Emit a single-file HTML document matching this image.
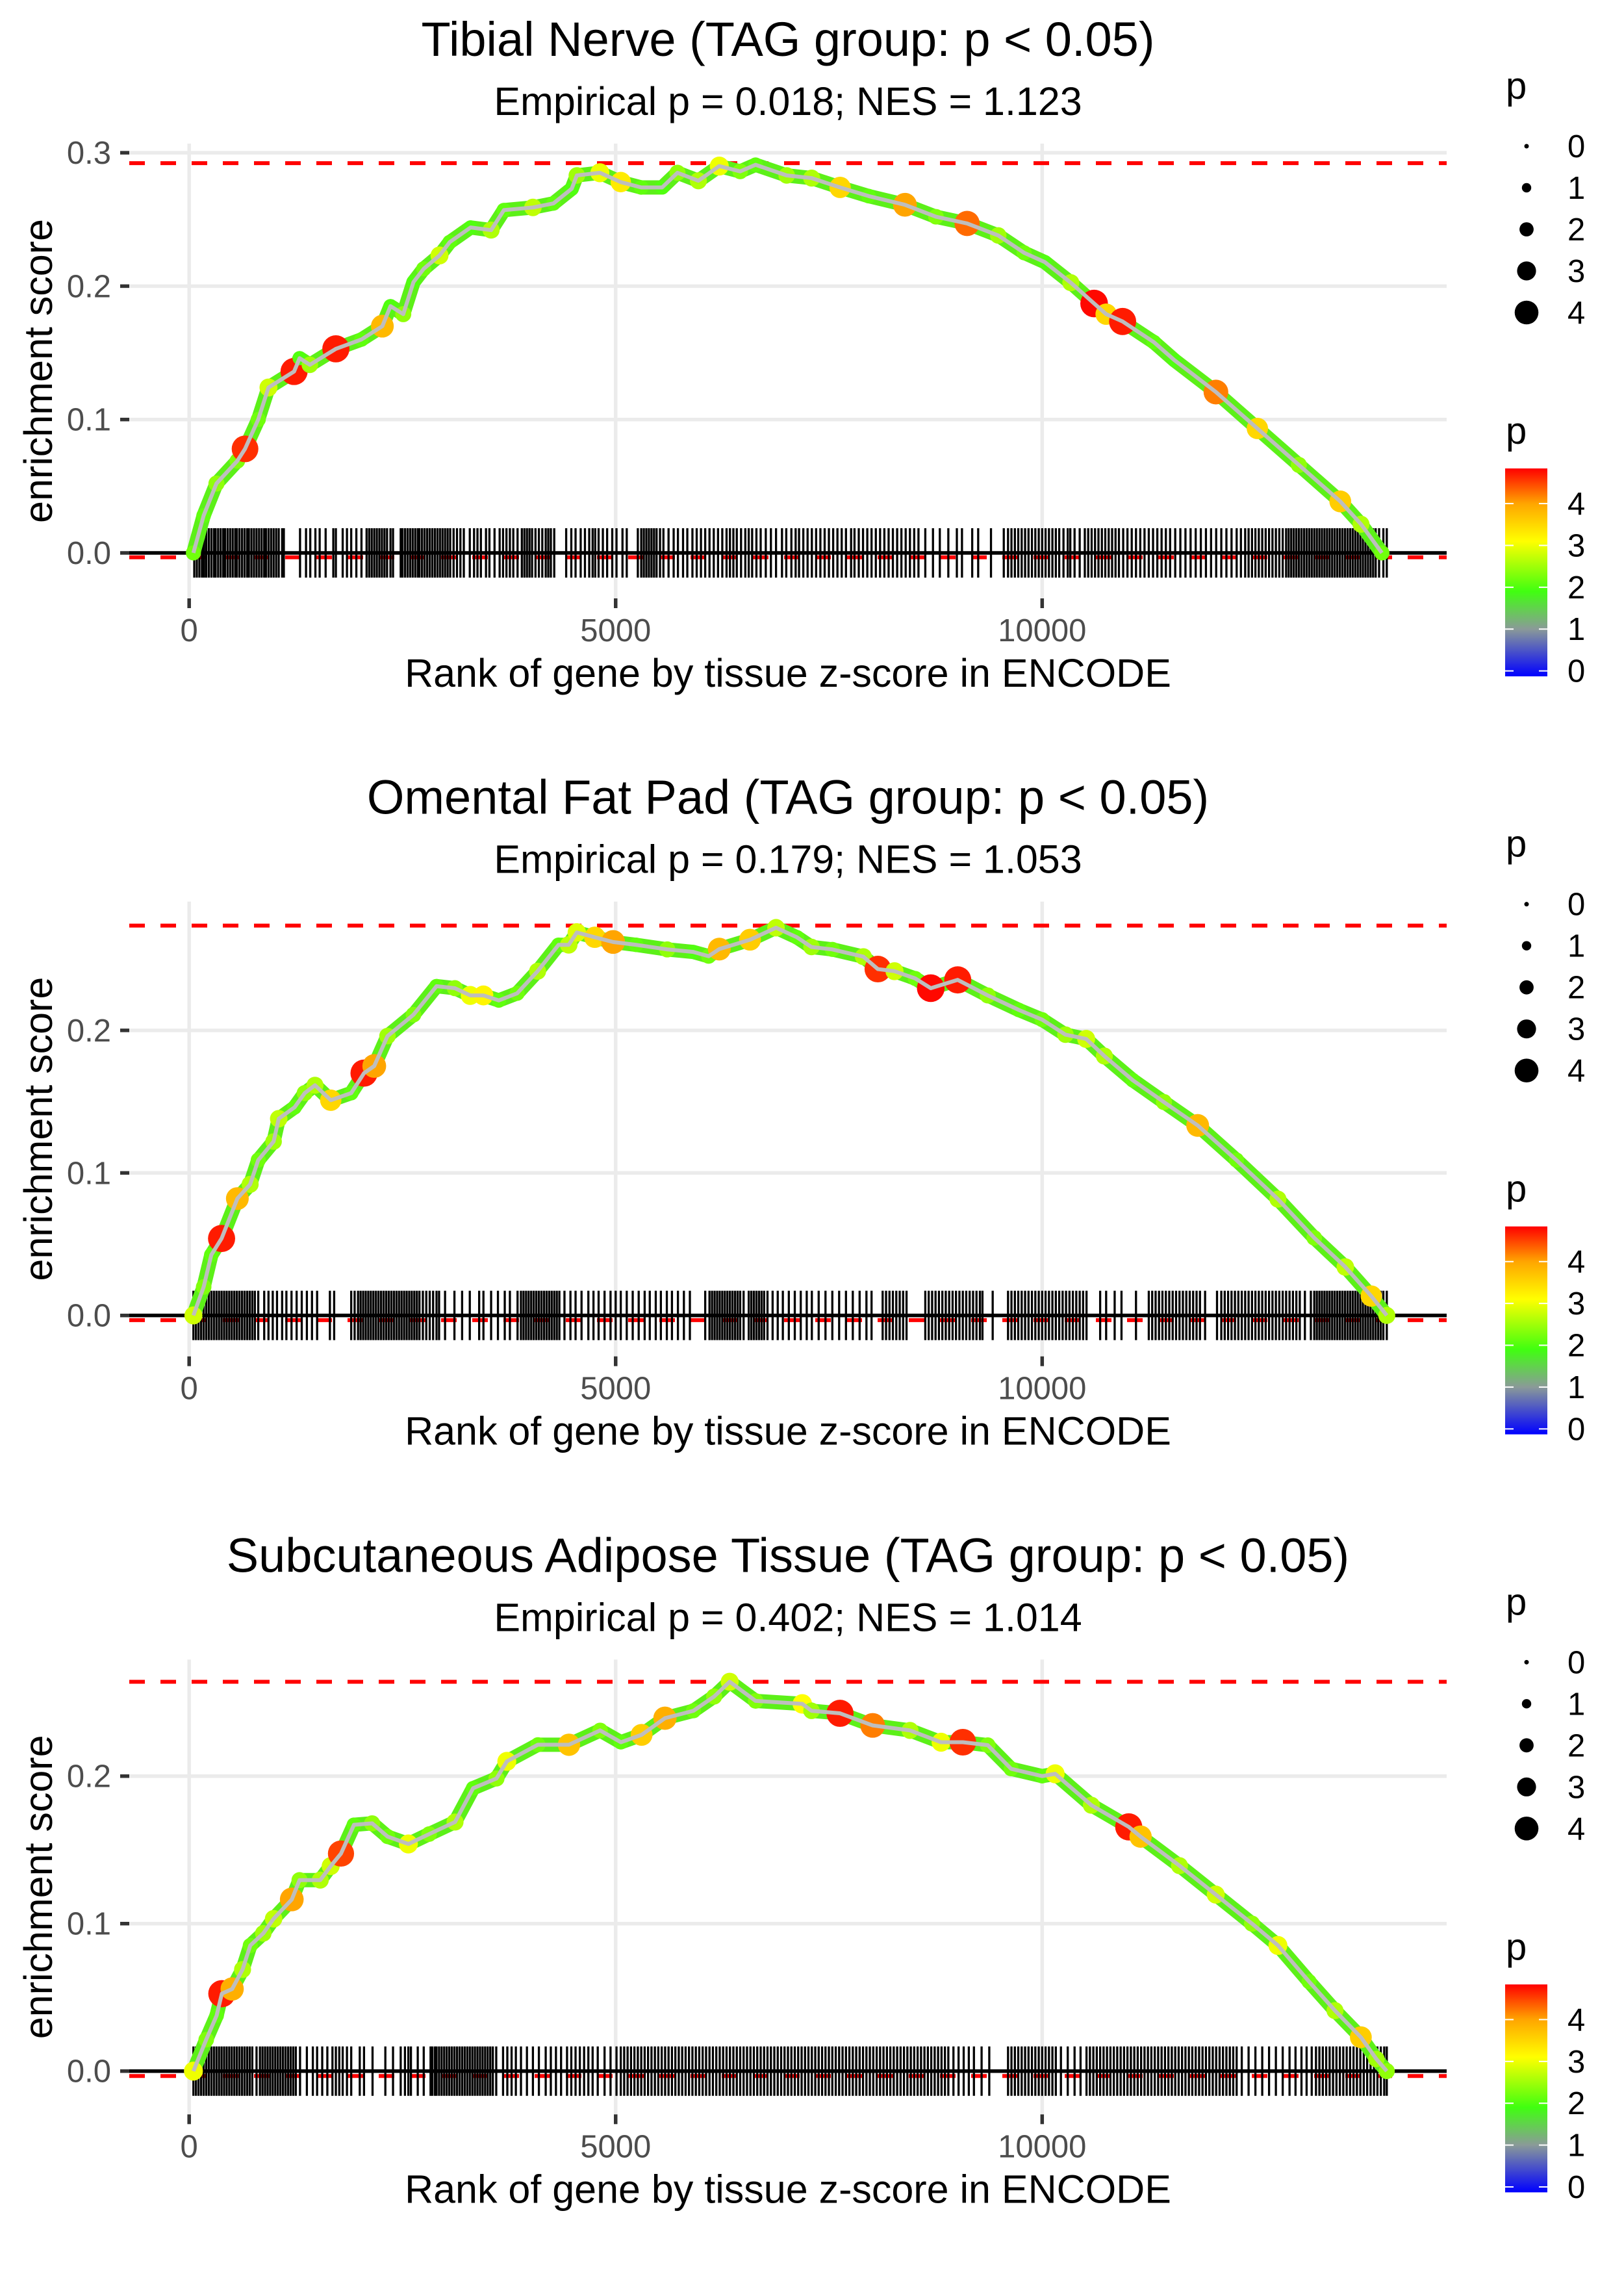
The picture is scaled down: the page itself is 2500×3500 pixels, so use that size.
<!DOCTYPE html>
<html><head><meta charset="utf-8"><style>
html,body{margin:0;padding:0;background:#fff;}
svg{display:block;font-family:"Liberation Sans",Arial,sans-serif;}
</style></head><body>
<svg id="fig" width="2500" height="3500" viewBox="0 0 2500 3500" xmlns="http://www.w3.org/2000/svg"></svg>
<script>
// ---------- Panel 1: Tibial Nerve ----------
const p1Title = "Tibial Nerve (TAG group: p < 0.05)";
const p1Sub = "Empirical p = 0.018; NES = 1.123";
const p1YTicks = [0, 0.1, 0.2, 0.3];
const p1Max = 0.2922;
const p1Rank = [50,170,320,565,655,810,930,1230,1295,1415,1720,2020,2265,2360,2510,2630,2750,2935,3055,3300,3540,3690,4030,4270,4485,4545,4815,5060,5300,5545,5725,5970,6215,6460,6640,7005,7298,7631,7966,8391,8755,9120,9485,9789,10031,10336,10609,10750,10943,11310,11550,12037,12523,13009,13495,13738,13983];
const p1ES = [0,0.028,0.052,0.069,0.078,0.1,0.124,0.136,0.146,0.141,0.153,0.16,0.17,0.185,0.179,0.203,0.213,0.223,0.233,0.244,0.242,0.257,0.259,0.262,0.273,0.283,0.285,0.278,0.274,0.274,0.285,0.279,0.29,0.286,0.291,0.283,0.281,0.274,0.2675,0.261,0.252,0.247,0.238,0.225,0.218,0.2026,0.187,0.179,0.1735,0.158,0.1445,0.1206,0.0933,0.066,0.0386,0.0215,0];
const p1P = [2.2,2.1,2.4,2.3,4.6,2.2,2.8,4.7,2.0,2.5,4.7,2.1,3.8,2.0,2.4,2.0,2.2,2.8,2.1,2.0,2.6,2.1,2.7,2.1,2.0,2.5,3.0,3.3,2.1,2.0,2.4,2.6,3.0,2.3,2.1,2.5,2.6,3.5,2.1,4.0,2.3,4.3,2.5,2.2,2.0,2.6,4.8,3.5,4.7,2.1,2.0,4.2,3.5,2.4,3.6,2.6,2.2];
const p1Rug = [60,90,120,150,175,200,230,260,290,310,340,370,400,420,450,480,510,540,560,590,620,650,680,700,730,760,790,820,850,880,900,930,960,990,1020,1050,1090,1110,1300,1370,1420,1480,1530,1600,1690,1720,1800,1850,1900,1960,2020,2080,2110,2140,2170,2200,2230,2260,2290,2320,2360,2390,2480,2500,2530,2560,2590,2620,2650,2680,2700,2730,2760,2790,2820,2850,2880,2910,2940,2970,3000,3030,3060,3100,3140,3180,3220,3290,3340,3380,3420,3480,3520,3580,3640,3680,3720,3760,3800,3850,3900,3930,3960,3990,4020,4060,4100,4140,4180,4210,4240,4280,4420,4480,4530,4590,4640,4690,4730,4760,4800,4850,4900,4960,5010,5080,5130,5260,5300,5330,5360,5390,5420,5450,5480,5520,5560,5620,5680,5730,5790,5840,5900,5950,6000,6050,6100,6150,6200,6250,6300,6340,6380,6420,6470,6520,6560,6600,6650,6700,6760,6820,6880,6950,7000,7060,7110,7150,7200,7250,7300,7350,7400,7450,7500,7550,7600,7650,7700,7760,7800,7850,7900,7950,8000,8050,8100,8150,8200,8250,8300,8350,8400,8450,8500,8550,8630,8720,8800,8900,9000,9060,9180,9250,9400,9550,9600,9640,9680,9720,9760,9800,9840,9880,9920,9960,10000,10040,10080,10120,10160,10200,10250,10300,10330,10380,10440,10500,10540,10580,10620,10660,10700,10740,10780,10820,10860,10900,10950,11000,11050,11100,11150,11200,11250,11300,11350,11400,11450,11500,11560,11620,11680,11740,11800,11860,11920,11980,12040,12100,12160,12220,12280,12330,12380,12420,12460,12500,12540,12580,12620,12660,12700,12740,12780,12820,12860,12890,12920,12950,12980,13010,13040,13070,13100,13130,13160,13190,13220,13250,13280,13310,13340,13370,13400,13430,13460,13490,13520,13550,13580,13610,13640,13670,13700,13730,13760,13790,13820,13850,13880,13910,13950,14000,14040];

// ---------- Panel 2: Omental Fat Pad ----------
const p2Title = "Omental Fat Pad (TAG group: p < 0.05)";
const p2Sub = "Empirical p = 0.179; NES = 1.053";
const p2YTicks = [0, 0.1, 0.2];
const p2Max = 0.2735;
const p2Rank = [50,170,260,380,565,715,810,990,1050,1235,1355,1475,1660,1900,2050,2170,2325,2630,2900,3115,3295,3450,3630,3845,4085,4330,4450,4545,4755,4970,5240,5605,5910,6090,6215,6575,6880,7125,7296,7540,7904,8074,8269,8512,8694,9010,9362,9727,10000,10273,10516,10729,11063,11428,11823,12278,12764,13190,13554,13858,14040];
const p2ES = [0,0.02,0.0425,0.054,0.082,0.092,0.109,0.122,0.138,0.146,0.156,0.1615,0.151,0.156,0.17,0.175,0.196,0.211,0.231,0.2296,0.2245,0.2245,0.221,0.226,0.2415,0.26,0.26,0.2687,0.2653,0.262,0.26,0.2568,0.255,0.252,0.257,0.2636,0.272,0.2653,0.2585,0.2568,0.2517,0.243,0.2415,0.2364,0.2296,0.2354,0.2245,0.2143,0.2075,0.197,0.194,0.182,0.165,0.1497,0.1333,0.109,0.0816,0.0544,0.034,0.0136,0];
const p2P = [2.8,2.3,2.1,4.7,3.8,2.6,2.2,2.5,2.7,2.1,2.4,2.6,3.5,2.1,4.7,4.0,2.5,2.3,2.1,2.4,3.0,3.2,2.1,2.2,2.6,2.1,2.7,2.9,3.5,4.0,2.1,2.4,2.0,2.2,3.8,3.6,2.7,2.1,2.5,2.2,2.6,4.6,2.8,2.2,4.8,4.7,2.4,2.1,2.2,2.5,2.8,2.6,2.1,2.4,3.8,2.2,2.6,2.3,2.7,3.5,2.6];
const p2Rug = [50,80,110,140,170,200,230,260,290,320,350,380,410,440,470,500,530,560,590,620,650,680,710,740,770,810,880,930,980,1030,1090,1140,1200,1260,1320,1380,1440,1500,1650,1700,1900,1940,1980,2010,2040,2070,2100,2130,2160,2190,2220,2250,2280,2310,2340,2370,2400,2430,2460,2490,2520,2550,2580,2610,2640,2670,2700,2740,2780,2820,2860,2900,2930,3000,3110,3200,3290,3400,3450,3540,3620,3700,3760,3850,3890,3920,3950,3980,4010,4040,4070,4100,4130,4160,4190,4220,4250,4280,4310,4340,4400,4470,4530,4600,4680,4740,4800,4870,4940,5000,5060,5130,5200,5270,5340,5400,5470,5530,5600,5660,5730,5800,5870,6050,6100,6130,6160,6190,6220,6250,6280,6310,6340,6370,6400,6430,6460,6500,6560,6590,6620,6650,6680,6710,6740,6780,6840,6900,6960,7030,7100,7170,7240,7300,7380,7460,7540,7620,7700,7780,7860,7940,8000,8130,8170,8210,8250,8290,8330,8370,8410,8630,8670,8710,8750,8790,8830,8870,8910,8950,8990,9030,9070,9110,9150,9190,9230,9270,9300,9420,9600,9640,9680,9720,9760,9800,9840,9880,9920,9960,10000,10040,10080,10120,10160,10200,10240,10280,10320,10360,10400,10440,10480,10520,10680,10750,10850,10930,11100,11250,11290,11330,11370,11410,11450,11490,11530,11570,11610,11650,11690,11730,11770,11810,11850,11910,12050,12100,12140,12180,12220,12260,12300,12340,12380,12420,12460,12500,12540,12580,12620,12660,12700,12740,12780,12820,12860,12900,12940,12980,13020,13080,13150,13190,13220,13250,13280,13310,13340,13370,13400,13430,13460,13490,13520,13550,13580,13610,13640,13670,13700,13730,13760,13790,13820,13850,13880,13910,13940,13970,14000,14040];

// ---------- Panel 3: Subcutaneous Adipose Tissue ----------
const p3Title = "Subcutaneous Adipose Tissue (TAG group: p < 0.05)";
const p3Sub = "Empirical p = 0.402; NES = 1.014";
const p3YTicks = [0, 0.1, 0.2];
const p3Max = 0.264;
const p3Rank = [50,200,322,383,504,626,717,869,990,1203,1294,1537,1659,1780,1932,2145,2327,2570,2813,3117,3329,3603,3724,4089,4453,4818,5061,5304,5578,5912,6155,6337,6641,7188,7296,7630,8013,8451,8815,9070,9362,9636,10000,10152,10577,11015,11154,11610,12035,12460,12764,13129,13433,13736,13918,14040];
const p3ES = [0,0.0213,0.0377,0.0525,0.0557,0.0689,0.0852,0.0934,0.1033,0.1164,0.1295,0.1295,0.139,0.1475,0.167,0.168,0.159,0.154,0.1607,0.1689,0.1918,0.1984,0.21,0.2213,0.2213,0.231,0.223,0.228,0.2393,0.2443,0.254,0.264,0.251,0.249,0.2443,0.2426,0.2344,0.231,0.223,0.223,0.221,0.205,0.2,0.2016,0.1803,0.1656,0.159,0.1393,0.1197,0.1,0.0852,0.0607,0.041,0.023,0.0082,0];
const p3P = [3.0,2.3,2.1,4.7,3.9,2.6,2.2,2.5,2.7,4.0,2.4,2.6,2.8,4.5,2.1,2.4,2.2,3.0,2.3,2.6,2.1,2.4,3.0,2.2,3.7,2.3,2.1,3.6,3.9,2.2,2.4,2.8,2.3,3.1,2.5,4.7,4.2,2.6,3.0,4.6,2.3,2.2,2.1,3.0,2.6,4.7,3.7,2.6,2.8,2.4,3.0,2.2,2.6,3.6,2.5,2.4];
const p3Rug = [50,80,110,140,170,200,230,260,290,320,350,380,410,440,470,500,530,560,590,620,650,680,710,740,790,830,860,890,920,950,980,1010,1040,1070,1100,1130,1160,1190,1220,1250,1300,1380,1450,1500,1560,1620,1680,1720,1760,1800,1850,1900,2000,2050,2150,2300,2390,2480,2530,2570,2600,2680,2750,2830,2850,2880,2900,2930,2960,2990,3020,3050,3080,3110,3140,3170,3200,3230,3260,3290,3320,3350,3380,3410,3440,3470,3500,3530,3560,3600,3680,3730,3780,3830,3890,3960,4030,4100,4180,4240,4300,4360,4430,4480,4530,4580,4630,4680,4730,4790,4870,4940,5010,5060,5100,5140,5180,5220,5260,5300,5340,5380,5420,5460,5500,5540,5580,5620,5660,5700,5740,5780,5820,5860,5900,5940,5980,6020,6060,6100,6140,6180,6220,6260,6300,6340,6380,6420,6460,6500,6540,6580,6620,6660,6700,6740,6780,6820,6860,6900,6940,6980,7020,7060,7100,7140,7180,7220,7260,7300,7340,7380,7420,7460,7500,7540,7580,7620,7660,7700,7740,7780,7820,7860,7900,7940,7980,8020,8060,8100,8140,8180,8220,8260,8300,8340,8380,8420,8460,8500,8540,8580,8620,8660,8700,8740,8780,8820,8860,8900,8960,9020,9080,9140,9200,9290,9380,9600,9640,9680,9720,9760,9800,9840,9880,9920,9960,10000,10040,10080,10120,10160,10220,10300,10380,10450,10520,10560,10600,10640,10680,10720,10760,10800,10840,10880,10920,10960,11000,11040,11080,11120,11160,11200,11240,11280,11320,11360,11400,11440,11480,11520,11560,11600,11640,11680,11720,11760,11800,11840,11880,11920,11960,12000,12040,12080,12120,12160,12200,12240,12280,12340,12420,12500,12580,12660,12740,12820,12900,12970,13040,13100,13160,13210,13250,13290,13330,13370,13410,13450,13490,13530,13570,13610,13650,13690,13730,13770,13810,13850,13890,13930,13970,14010,14040];

// legend data
const sizeLegendValues = [0, 1, 2, 3, 4];
const colorLegendTicks = [0, 1, 2, 3, 4];
const colorStopsValue = [-0.13, 1.0, 1.9, 3.1, 4.0, 4.84];
const colorStopsColor = ["#0000ff", "#8a9a98", "#40ff10", "#ffff00", "#ffa500", "#ff0000"];

const NS = "http://www.w3.org/2000/svg";
const svg = document.getElementById("fig");
function mk(tag, attrs, parent) {
  const e = document.createElementNS(NS, tag);
  for (const k in attrs) e.setAttribute(k, attrs[k]);
  (parent || svg).appendChild(e);
  return e;
}
function hex2rgb(h){return [parseInt(h.slice(1,3),16),parseInt(h.slice(3,5),16),parseInt(h.slice(5,7),16)];}
function pColor(p) {
  if (p <= colorStopsValue[0]) return colorStopsColor[0];
  for (let i = 1; i < colorStopsValue.length; i++) {
    if (p <= colorStopsValue[i]) {
      const t = (p - colorStopsValue[i-1]) / (colorStopsValue[i] - colorStopsValue[i-1]);
      const a = hex2rgb(colorStopsColor[i-1]), b = hex2rgb(colorStopsColor[i]);
      return "rgb(" + a.map((v,j)=>Math.round(v+(b[j]-v)*t)).join(",") + ")";
    }
  }
  return colorStopsColor[colorStopsColor.length-1];
}
function pRadius(p) { return 3.5 + 3.7 * p; }

const X0 = 199, X1 = 2227;
const TOP = 221, BOT = 921;
const rankMin = -702, rankMax = 14742;
function xs(r) { return X0 + (r - rankMin) / (rankMax - rankMin) * (X1 - X0); }

const panels = [
  {title:p1Title, sub:p1Sub, ticks:p1YTicks, max:p1Max, rank:p1Rank, es:p1ES, p:p1P, rug:p1Rug, zeroY:851, pxPerUnit:2053},
  {title:p2Title, sub:p2Sub, ticks:p2YTicks, max:p2Max, rank:p2Rank, es:p2ES, p:p2P, rug:p2Rug, zeroY:858, pxPerUnit:2194},
  {title:p3Title, sub:p3Sub, ticks:p3YTicks, max:p3Max, rank:p3Rank, es:p3ES, p:p3P, rug:p3Rug, zeroY:854.4, pxPerUnit:2270}
];
const xTicks = [0, 5000, 10000];

panels.forEach((pn, i) => {
  const g = mk("g", {transform: "translate(0," + (i * 3500 / 3).toFixed(2) + ")"});
  
  
  const yMin = -(BOT - pn.zeroY) / pn.pxPerUnit, yMax = (pn.zeroY - TOP) / pn.pxPerUnit;
  const ys = v => BOT - (v - yMin) / (yMax - yMin) * (BOT - TOP);

  const t = mk("text", {x:1213, y:86, "text-anchor":"middle", "font-size":74, fill:"#000"}, g);
  t.textContent = pn.title;
  
  
  const s = mk("text", {x:1213, y:177, "text-anchor":"middle", "font-size":61, fill:"#000"}, g);
  s.textContent = pn.sub;
  
  

  pn.ticks.forEach(v => {
    const l = mk("line", {x1:X0, x2:X1, y1:ys(v), y2:ys(v), stroke:"#ebebeb", "stroke-width":5.5}, g);
    
    
  });
  xTicks.forEach(v => {
    const l = mk("line", {x1:xs(v), x2:xs(v), y1:TOP, y2:BOT, stroke:"#ebebeb", "stroke-width":5.5}, g);
    
    
  });

  pn.ticks.forEach(v => {
    const tk = mk("line", {x1:185, x2:199, y1:ys(v), y2:ys(v), stroke:"#333", "stroke-width":5.5}, g);
    
    
    const lb = mk("text", {x:171, y:ys(v)+17, "text-anchor":"end", "font-size":49, fill:"#4d4d4d"}, g);
    lb.textContent = v.toFixed(1);
    
    
  });
  xTicks.forEach(v => {
    const tk = mk("line", {x1:xs(v), x2:xs(v), y1:BOT, y2:BOT+15, stroke:"#333", "stroke-width":5.5}, g);
    
    
    const lb = mk("text", {x:xs(v), y:987, "text-anchor":"middle", "font-size":49, fill:"#4d4d4d"}, g);
    lb.textContent = String(v);
    
    
  });
  const xt = mk("text", {x:1213, y:1057, "text-anchor":"middle", "font-size":61, fill:"#000"}, g);
  xt.textContent = "Rank of gene by tissue z-score in ENCODE";
  
  
  const yt = mk("text", {x:0, y:0, "text-anchor":"middle", "font-size":61, fill:"#000", transform:"translate(80," + ((TOP+BOT)/2) + ") rotate(-90)"}, g);
  yt.textContent = "enrichment score";
  
  

  const rmax = mk("line", {x1:X0, x2:X1, y1:ys(pn.max), y2:ys(pn.max), stroke:"#ff0000", "stroke-width":6, "stroke-dasharray":"24 24"}, g);
  
  
  const rmin = mk("line", {x1:X0, x2:X1, y1:ys(-0.0033), y2:ys(-0.0033), stroke:"#ff0000", "stroke-width":6, "stroke-dasharray":"24 24"}, g);
  
  

  const rugG = mk("g", {}, g);
  
  
  pn.rug.forEach(r => {
    const l = mk("line", {x1:xs(r), x2:xs(r), y1:pn.zeroY-38, y2:pn.zeroY+38, stroke:"#000", "stroke-width":3.3}, rugG);
    
    
  });
  const z = mk("line", {x1:X0, x2:X1, y1:ys(0), y2:ys(0), stroke:"#000", "stroke-width":5.5}, g);
  
  

  const d = pn.rank.map((r,k)=>(k?"L":"M")+xs(r).toFixed(1)+","+ys(pn.es[k]).toFixed(1)).join(" ");
  const band = mk("path", {d:d, fill:"none", stroke:"#5cf018", "stroke-width":22, "stroke-linejoin":"round", "stroke-linecap":"round"}, g);
  
  
  pn.rank.forEach((r,k) => {
    const c = mk("circle", {cx:xs(r), cy:ys(pn.es[k]), r:pRadius(pn.p[k]), fill:pColor(pn.p[k])}, g);
    
    
  });
  const line = mk("path", {d:d, fill:"none", stroke:"#bebebe", "stroke-width":6, "stroke-linejoin":"round"}, g);
  
  

  const sl = mk("g", {}, g);
  
  
  const slt = mk("text", {x:2318, y:152, "font-size":58, fill:"#000"}, sl);
  slt.textContent = "p";
  
  
  sizeLegendValues.forEach((v,k) => {
    const cy = 225 + k * 64;
    const c = mk("circle", {cx:2350, cy:cy, r:pRadius(v)}, sl);
    
    
    const lt = mk("text", {x:2413, y:cy+17, "font-size":49, fill:"#000"}, sl);
    lt.textContent = String(v);
    
    
  });

  const cl = mk("g", {}, g);
  
  
  const clt = mk("text", {x:2318, y:683, "font-size":58, fill:"#000"}, cl);
  clt.textContent = "p";
  
  
  const barTop = 721, barBot = 1041;
  const vTop = colorStopsValue[colorStopsValue.length-1], vBot = colorStopsValue[0];
  const cy = v => barBot - (v - vBot) / (vTop - vBot) * (barBot - barTop);
  const defs = mk("defs", {}, cl);
  const lg = mk("linearGradient", {id:"pgrad"+i, x1:0, y1:1, x2:0, y2:0}, defs);
  colorStopsValue.forEach((v,k) => {
    mk("stop", {offset:((v - vBot)/(vTop - vBot)).toFixed(4), "stop-color":colorStopsColor[k]}, lg);
  });
  const bar = mk("rect", {x:2317, y:barTop, width:65, height:barBot-barTop, fill:"url(#pgrad"+i+")"}, cl);
  
  
  colorLegendTicks.forEach(v => {
    const y = cy(v);
    mk("line", {x1:2317, x2:2330, y1:y, y2:y, stroke:"#fff", "stroke-width":2}, cl);
    mk("line", {x1:2369, x2:2382, y1:y, y2:y, stroke:"#fff", "stroke-width":2}, cl);
    const lt = mk("text", {x:2413, y:y+17, "font-size":49, fill:"#000"}, cl);
    lt.textContent = String(v);
    
    
  });
});
</script>
</body></html>
